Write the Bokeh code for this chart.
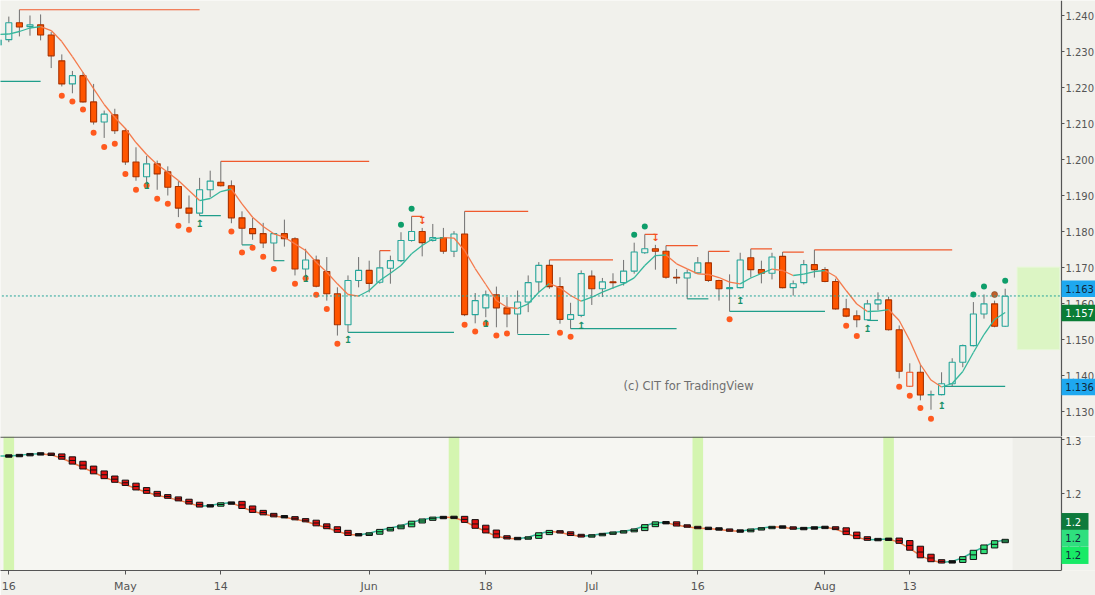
from bokeh.plotting import figure
from bokeh.layouts import column
from bokeh.models import Range1d, FixedTicker, PrintfTickFormatter, Label
from bokeh.embed import file_html
from bokeh.resources import INLINE
from bokeh.core.properties import value

# ---------------- data (EUR/USD daily) ----------------
idx = list(range(-1, 95))
opens = [
    1.2318, 1.2333, 1.2380, 1.2369, 1.2374, 1.2346, 1.2274, 1.2210, 1.2233, 1.2160,
    1.2104, 1.2124, 1.2080, 1.1993, 1.1952, 1.1988, 1.1966, 1.1925, 1.1865, 1.1851,
    1.1916, 1.1937, 1.1927, 1.1838, 1.1808, 1.1794, 1.1768, 1.1794, 1.1780, 1.1696,
    1.1721, 1.1689, 1.1627, 1.1541, 1.1664, 1.1692, 1.1659, 1.1698, 1.1719, 1.1775,
    1.1800, 1.1775, 1.1783, 1.1745, 1.1793, 1.1569, 1.1588, 1.1624, 1.1588, 1.1571,
    1.1604, 1.1660, 1.1706, 1.1647, 1.1556, 1.1567, 1.1676, 1.1641, 1.1660, 1.1658,
    1.1690, 1.1741, 1.1752, 1.1745, 1.1673, 1.1671, 1.1685, 1.1713, 1.1664, 1.1641,
    1.1644, 1.1727, 1.1694, 1.1684, 1.1731, 1.1644, 1.1658, 1.1708, 1.1694, 1.1661,
    1.1585, 1.1566, 1.1555, 1.1599, 1.1610, 1.1527, 1.1370, 1.1409, 1.1346, 1.1347,
    1.1377, 1.1437, 1.1483, 1.1571, 1.1599, 1.1537,
]
highs = [
    1.2365, 1.2397, 1.2416, 1.2400, 1.2403, 1.2354, 1.2292, 1.2246, 1.2243, 1.2210,
    1.2136, 1.2141, 1.2087, 1.2034, 1.2010, 1.1997, 1.1981, 1.1940, 1.1900, 1.1949,
    1.1969, 1.1995, 1.1942, 1.1856, 1.1838, 1.1824, 1.1795, 1.1833, 1.1784, 1.1752,
    1.1733, 1.1729, 1.1645, 1.1678, 1.1729, 1.1719, 1.1747, 1.1733, 1.1798, 1.1842,
    1.1810, 1.1821, 1.1810, 1.1801, 1.1856, 1.1629, 1.1636, 1.1647, 1.1618, 1.1636,
    1.1678, 1.1715, 1.1721, 1.1673, 1.1602, 1.1692, 1.1692, 1.1671, 1.1684, 1.1721,
    1.1769, 1.1792, 1.1763, 1.1761, 1.1696, 1.1694, 1.1729, 1.1745, 1.1666, 1.1681,
    1.1741, 1.1752, 1.1719, 1.1741, 1.1743, 1.1664, 1.1721, 1.1749, 1.1701, 1.1669,
    1.1613, 1.1581, 1.1610, 1.1631, 1.1619, 1.1539, 1.1434, 1.1431, 1.1358, 1.1409,
    1.1448, 1.1486, 1.1604, 1.1625, 1.1608, 1.1641,
]
lows = [
    1.2305, 1.2326, 1.2342, 1.2344, 1.2331, 1.2254, 1.2203, 1.2184, 1.2158, 1.2097,
    1.2060, 1.2071, 1.1985, 1.1941, 1.1937, 1.1916, 1.1900, 1.1840, 1.1823, 1.1844,
    1.1895, 1.1925, 1.1823, 1.1763, 1.1777, 1.1754, 1.1719, 1.1758, 1.1678, 1.1673,
    1.1645, 1.1608, 1.1511, 1.1520, 1.1645, 1.1631, 1.1655, 1.1655, 1.1715, 1.1772,
    1.1731, 1.1772, 1.1738, 1.1729, 1.1565, 1.1545, 1.1562, 1.1534, 1.1534, 1.1516,
    1.1576, 1.1631, 1.1641, 1.1544, 1.1530, 1.1562, 1.1596, 1.1618, 1.1641, 1.1650,
    1.1683, 1.1738, 1.1694, 1.1669, 1.1655, 1.1613, 1.1682, 1.1660, 1.1608, 1.1578,
    1.1642, 1.1672, 1.1656, 1.1667, 1.1642, 1.1622, 1.1653, 1.1672, 1.1659, 1.1583,
    1.1562, 1.1534, 1.1553, 1.1581, 1.1525, 1.1392, 1.1368, 1.1331, 1.1305, 1.1345,
    1.1370, 1.1423, 1.1481, 1.1558, 1.1534, 1.1535,
]
closes = [
    1.2332, 1.2380, 1.2368, 1.2374, 1.2346, 1.2288, 1.2210, 1.2233, 1.2160, 1.2104,
    1.2126, 1.2080, 1.1993, 1.1952, 1.1988, 1.1960, 1.1923, 1.1865, 1.1851, 1.1916,
    1.1940, 1.1927, 1.1838, 1.1809, 1.1794, 1.1768, 1.1794, 1.1780, 1.1696, 1.1721,
    1.1648, 1.1627, 1.1541, 1.1664, 1.1692, 1.1656, 1.1699, 1.1719, 1.1775, 1.1800,
    1.1769, 1.1783, 1.1745, 1.1793, 1.1569, 1.1608, 1.1624, 1.1588, 1.1571, 1.1604,
    1.1658, 1.1706, 1.1647, 1.1556, 1.1569, 1.1683, 1.1641, 1.1660, 1.1658, 1.1690,
    1.1743, 1.1752, 1.1745, 1.1673, 1.1671, 1.1685, 1.1713, 1.1664, 1.1641, 1.1644,
    1.1721, 1.1694, 1.1684, 1.1729, 1.1644, 1.1655, 1.1708, 1.1694, 1.1661, 1.1585,
    1.1565, 1.1555, 1.1599, 1.1610, 1.1527, 1.1412, 1.1409, 1.1346, 1.1347, 1.1377,
    1.1437, 1.1483, 1.1571, 1.1599, 1.1537, 1.1620,
]
ma = [
    1.23472, 1.23486, 1.23556, 1.23653, 1.23694, 1.23583, 1.23278, 1.22861, 1.22417, 1.21972,
    1.21528, 1.21167, 1.20861, 1.20472, 1.20139, 1.19861, 1.19647, 1.19417, 1.19139, 1.18861,
    1.18917, 1.19111, 1.19181, 1.18769, 1.18397, 1.18139, 1.17936, 1.17842, 1.17658, 1.17472,
    1.17147, 1.16869, 1.16547, 1.16250, 1.16208, 1.16361, 1.16639, 1.16842, 1.17056, 1.17381,
    1.17611, 1.17797, 1.17833, 1.17819, 1.17472, 1.16972, 1.16528, 1.16083, 1.15897, 1.15861,
    1.15992, 1.16314, 1.16556, 1.16436, 1.16222, 1.16064, 1.16175, 1.16314, 1.16436, 1.16547,
    1.16714, 1.17056, 1.17333, 1.17347, 1.17103, 1.16964, 1.16825, 1.16806, 1.16722, 1.16592,
    1.16547, 1.16708, 1.16833, 1.16958, 1.16917, 1.16778, 1.16819, 1.16889, 1.16917, 1.16750,
    1.16361, 1.15986, 1.15778, 1.15790, 1.15833, 1.15528, 1.14972, 1.14306, 1.13875, 1.13681,
    1.13778, 1.14111, 1.14639, 1.15139, 1.15556, 1.15750,
]

date_ticks = [0, 11, 20, 34, 45, 55, 65, 77, 85]
date_labels = ["16", "May", "14", "Jun", "18", "Jul", "16", "Aug", "13"]
price_ticks = [1.13, 1.14, 1.15, 1.16, 1.17, 1.18, 1.19, 1.20, 1.21, 1.22, 1.23, 1.24]
sub_ticks = [1.15, 1.20, 1.25]
sub_tick_labels = ["1.2", "1.2", "1.3"]

res_start = [1, 20, 35, 38, 43, 51, 60, 62, 66, 70, 73, 76]
res_end = [18, 34, 36, 39, 49, 57, 61, 65, 68, 72, 75, 89]
res_price = [1.2416, 1.1995, 1.1747, 1.1842, 1.1856, 1.1721, 1.1792, 1.1761, 1.1745, 1.1752, 1.1743, 1.1749]

sup_start = [-2, 18, 22, 25, 32, 48, 53, 64, 68, 81, 88]
sup_end = [3, 20, 23, 26, 42, 51, 63, 66, 77, 82, 94]
sup_price = [1.2217, 1.1844, 1.1763, 1.1719, 1.1520, 1.1514, 1.1530, 1.1613, 1.1578, 1.1553, 1.1370]

dot_dn_idx = [5, 6, 7, 8, 9, 10, 11, 12, 13, 14, 15, 16, 17, 21, 22, 23, 24, 25, 27, 28, 29, 30, 31,
              43, 44, 45, 46, 47, 52, 53, 68, 79, 80, 84, 85, 86, 87]
dot_dn_price = [1.2177, 1.2161, 1.2139, 1.2074, 1.2035, 1.2044, 1.1960, 1.1916, 1.1928, 1.1891, 1.1877,
                1.1816, 1.1805, 1.1800, 1.1742, 1.1755, 1.1730, 1.1696, 1.1655, 1.1670, 1.1624, 1.1585,
                1.1488, 1.1541, 1.1522, 1.1544, 1.1511, 1.1517, 1.1519, 1.1508, 1.1556, 1.1538, 1.1510,
                1.1369, 1.1344, 1.1310, 1.1280]
dot_up_idx = [37, 38, 59, 60, 91, 92, 94]
dot_up_price = [1.1819, 1.1863, 1.1791, 1.1814, 1.1625, 1.1647, 1.1663]
dot_mix_idx = [93]
dot_mix_price = [1.1625]

up_arrow_idx = [13, 18, 28, 32, 45, 54, 69, 81, 88]
up_arrow_price = [1.1928, 1.1823, 1.1670, 1.1500, 1.1544, 1.1539, 1.1608, 1.1531, 1.1317]
dn_arrow_idx = [39, 61]
dn_arrow_price = [1.1831, 1.1784]

zone_left, zone_right = 95.13, 99.15
zone_top, zone_bottom = 1.1701, 1.1472
last_price = 1.1621
band_idx = [0, 42, 65, 83]

top_badge_text = ["1.163", "1.157", "1.136"]
top_badge_price = [1.16408, 1.15736, 1.13681]
bot_badge_text = ["1.2", "1.2", "1.2"]
bot_badge_value = [1.17449, 1.15902, 1.14319]

# ---------------- styling ----------------
BG = "#f1f1ec"
BG_SUB = "#efefea"
BG_SUB_LIGHT = "#f6f6f2"
AX = "#555555"
ORANGE_FILL = "#ff5500"
ORANGE_EDGE = "#a83200"
ORANGE = "#f4511e"
TEAL = "#26a69a"
WICK = "#707070"
MA_DN = "#f47a4c"
MA_UP = "#36b79c"
DOT_OR = "#ff5a1f"
DOT_GR = "#0e9e6a"
RES = "#f05a2d"
SUP = "#1f9e8a"
FONT = "DejaVu Sans"

X0 = -0.783          # left edge of the panes
AXIS_X = 99.31       # where the price scale sits
XR = 102.52          # right edge of the page
xr = Range1d(X0, XR)
Y_TOP = (1.12306, 1.24417)
Y_SUB = (1.12937, 1.25276)


def style_yaxis(ax):
    ax.fixed_location = AXIS_X
    ax.axis_line_color = AX
    ax.axis_line_width = 1.2
    ax.major_tick_line_color = AX
    ax.major_tick_out = 3
    ax.major_tick_in = 0
    ax.minor_tick_line_color = None
    ax.major_label_standoff = 1
    ax.major_label_text_font = FONT
    ax.major_label_text_font_size = "10px"
    ax.major_label_text_color = AX


def badges(fig, texts, ys, half_h, right, bgs, fgs):
    n = len(texts)
    fig.quad(left=[AXIS_X] * n, right=[right] * n,
             top=[y + half_h for y in ys], bottom=[y - half_h for y in ys],
             fill_color=bgs, line_color=None, level="overlay")
    fig.text(x=[AXIS_X + 0.36] * n, y=ys, text=texts, text_font=value(FONT),
             text_font_size="10px", text_color=fgs, text_align="left",
             text_baseline="middle", level="overlay")


# ---------------- price pane ----------------
top = figure(width=1095, height=436, x_range=xr, y_range=Range1d(*Y_TOP),
             x_axis_location=None, y_axis_location="right",
             output_backend="svg", toolbar_location=None,
             background_fill_color=BG, border_fill_color=BG, outline_line_color=None,
             min_border_left=0, min_border_right=0, min_border_top=0, min_border_bottom=0)
top.grid.visible = False
yax = top.yaxis[0]
yax.ticker = FixedTicker(ticks=price_ticks)
yax.formatter = PrintfTickFormatter(format="%.3f")
style_yaxis(yax)

top.quad(left=[zone_left], right=[zone_right], top=[zone_top], bottom=[zone_bottom],
         fill_color="#dcf5c4", line_color="#e6f8d6", line_width=1)

top.segment(x0=res_start, y0=res_price, x1=res_end, y1=res_price, line_color=RES, line_width=1.2)
top.segment(x0=sup_start, y0=sup_price, x1=sup_end, y1=sup_price, line_color=SUP, line_width=1.2)

top.segment(x0=idx, y0=lows, x1=idx, y1=highs, line_color=WICK, line_width=1)

prev_close = [opens[0]] + closes[:-1]
b_top, b_bot, b_fill, b_line = [], [], [], []
for o, c, pc in zip(opens, closes, prev_close):
    hi, lo = max(o, c), min(o, c)
    if hi - lo < 0.00015:
        mid = (hi + lo) / 2
        hi, lo = mid + 0.000075, mid - 0.000075
    b_top.append(hi)
    b_bot.append(lo)
    down = c < pc
    hollow = c > o
    if hollow:
        b_fill.append(BG)
        b_line.append(ORANGE if down else TEAL)
    else:
        b_fill.append(ORANGE_FILL if down else TEAL)
        b_line.append(ORANGE_EDGE if down else TEAL)
top.vbar(x=idx, width=0.57, top=b_top, bottom=b_bot, fill_color=b_fill, line_color=b_line, line_width=1.1)

ma_col = [MA_UP if ma[k] >= ma[k - 1] else MA_DN for k in range(1, len(ma))]
top.segment(x0=idx[:-1], y0=ma[:-1], x1=idx[1:], y1=ma[1:], line_color=ma_col, line_width=1.3)

top.scatter(x=dot_dn_idx, y=dot_dn_price, size=6, fill_color=DOT_OR, line_color=None)
top.scatter(x=dot_up_idx, y=dot_up_price, size=6, fill_color=DOT_GR, line_color=None)
top.scatter(x=dot_mix_idx, y=dot_mix_price, size=6, fill_color="#c0612c", line_color="#7a4a2a", line_width=0.6)

top.text(x=up_arrow_idx, y=up_arrow_price, text=["\u21a5"] * len(up_arrow_idx),
         text_font=value(FONT), text_font_size="10px", text_font_style="bold",
         text_color="#168f68", text_align="center", text_baseline="middle")
top.text(x=dn_arrow_idx, y=dn_arrow_price, text=["\u21a7"] * len(dn_arrow_idx),
         text_font=value(FONT), text_font_size="10px", text_font_style="bold",
         text_color=ORANGE, text_align="center", text_baseline="middle")

top.segment(x0=[X0 - 1], x1=[AXIS_X], y0=[last_price], y1=[last_price], line_color=TEAL,
            line_dash="2 2", line_width=1)

top.add_layout(Label(x=58.0, y=1.13695, text="(c) CIT for TradingView", text_font=FONT,
                     text_font_size="11.5px", text_color="#6f6f6f", text_baseline="middle",
                     text_align="left"))

badges(top, top_badge_text, top_badge_price, 0.0023, XR,
       ["#1ea8f0", "#0a7d36", "#1ea8f0"], ["#10283c", "#ffffff", "#10283c"])

# ---------------- indicator pane ----------------
bot = figure(width=1095, height=159, x_range=xr, y_range=Range1d(*Y_SUB),
             x_axis_location="below", y_axis_location="right",
             output_backend="svg", toolbar_location=None,
             background_fill_color=BG, border_fill_color=BG, outline_line_color=None,
             min_border_left=0, min_border_right=0, min_border_top=0, min_border_bottom=25)
bot.grid.visible = False
ya2 = bot.yaxis[0]
ya2.ticker = FixedTicker(ticks=sub_ticks)
ya2.major_label_overrides = {t: l for t, l in zip(sub_ticks, sub_tick_labels)}
style_yaxis(ya2)
xa = bot.xaxis[0]
xa.ticker = FixedTicker(ticks=date_ticks)
xa.major_label_overrides = {t: l for t, l in zip(date_ticks, date_labels)}
xa.bounds = (X0 - 1, AXIS_X)
xa.axis_line_color = AX
xa.axis_line_width = 1.2
xa.major_tick_line_color = AX
xa.major_tick_out = 4
xa.major_tick_in = 0
xa.minor_tick_line_color = None
xa.major_label_standoff = 5
xa.major_label_text_font = FONT
xa.major_label_text_font_size = "11px"
xa.major_label_text_color = AX

bot.quad(left=[X0 - 1], right=[AXIS_X], bottom=[Y_SUB[0]], top=[Y_SUB[1]],
         fill_color=BG_SUB, line_color=None)
bot.quad(left=[X0 - 1], right=[94.7], bottom=[Y_SUB[0]], top=[Y_SUB[1]],
         fill_color=BG_SUB_LIGHT, line_color=None)
bot.quad(left=[b - 0.5 for b in band_idx], right=[b + 0.5 for b in band_idx],
         bottom=[Y_SUB[0]] * len(band_idx), top=[Y_SUB[1]] * len(band_idx),
         fill_color="#d4f5b0", line_color=None)
bot.segment(x0=[X0 - 1], x1=[AXIS_X], y0=[Y_SUB[1] - 0.0006], y1=[Y_SUB[1] - 0.0006],
            line_color=AX, line_width=1.3)

bot.segment(x0=idx[:-1], y0=ma[:-1], x1=idx[1:], y1=ma[1:], line_color=ma_col, line_width=1.5)

bx, bt, bb, bf = [], [], [], []
for k in range(1, len(ma)):
    d = ma[k] - ma[k - 1]
    mid = (ma[k] + ma[k - 1]) / 2
    half = max(abs(d) * 0.8, 0.0011)
    bx.append(idx[k])
    bt.append(mid + half)
    bb.append(mid - half)
    if abs(d) < 0.001:
        bf.append("#111111")
    else:
        bf.append("#2fdf78" if d > 0 else "#e01010")
bot.quad(left=[x - 0.3 for x in bx], right=[x + 0.3 for x in bx], top=bt, bottom=bb,
         fill_color=bf, line_color="#111111", line_width=1)
bot.segment(x0=[x - 0.3 for x in bx], x1=[x + 0.3 for x in bx],
            y0=[(a + b) / 2 for a, b in zip(bt, bb)], y1=[(a + b) / 2 for a, b in zip(bt, bb)],
            line_color="#111111", line_width=1)

badges(bot, bot_badge_text, bot_badge_value, 0.0078, 101.86,
       ["#0e7a3c", "#2fdf7e", "#18ea66"], ["#ffffff", "#10283c", "#10283c"])

layout = column(top, bot, spacing=0)
open("out.html", "w").write(file_html(layout, INLINE))
